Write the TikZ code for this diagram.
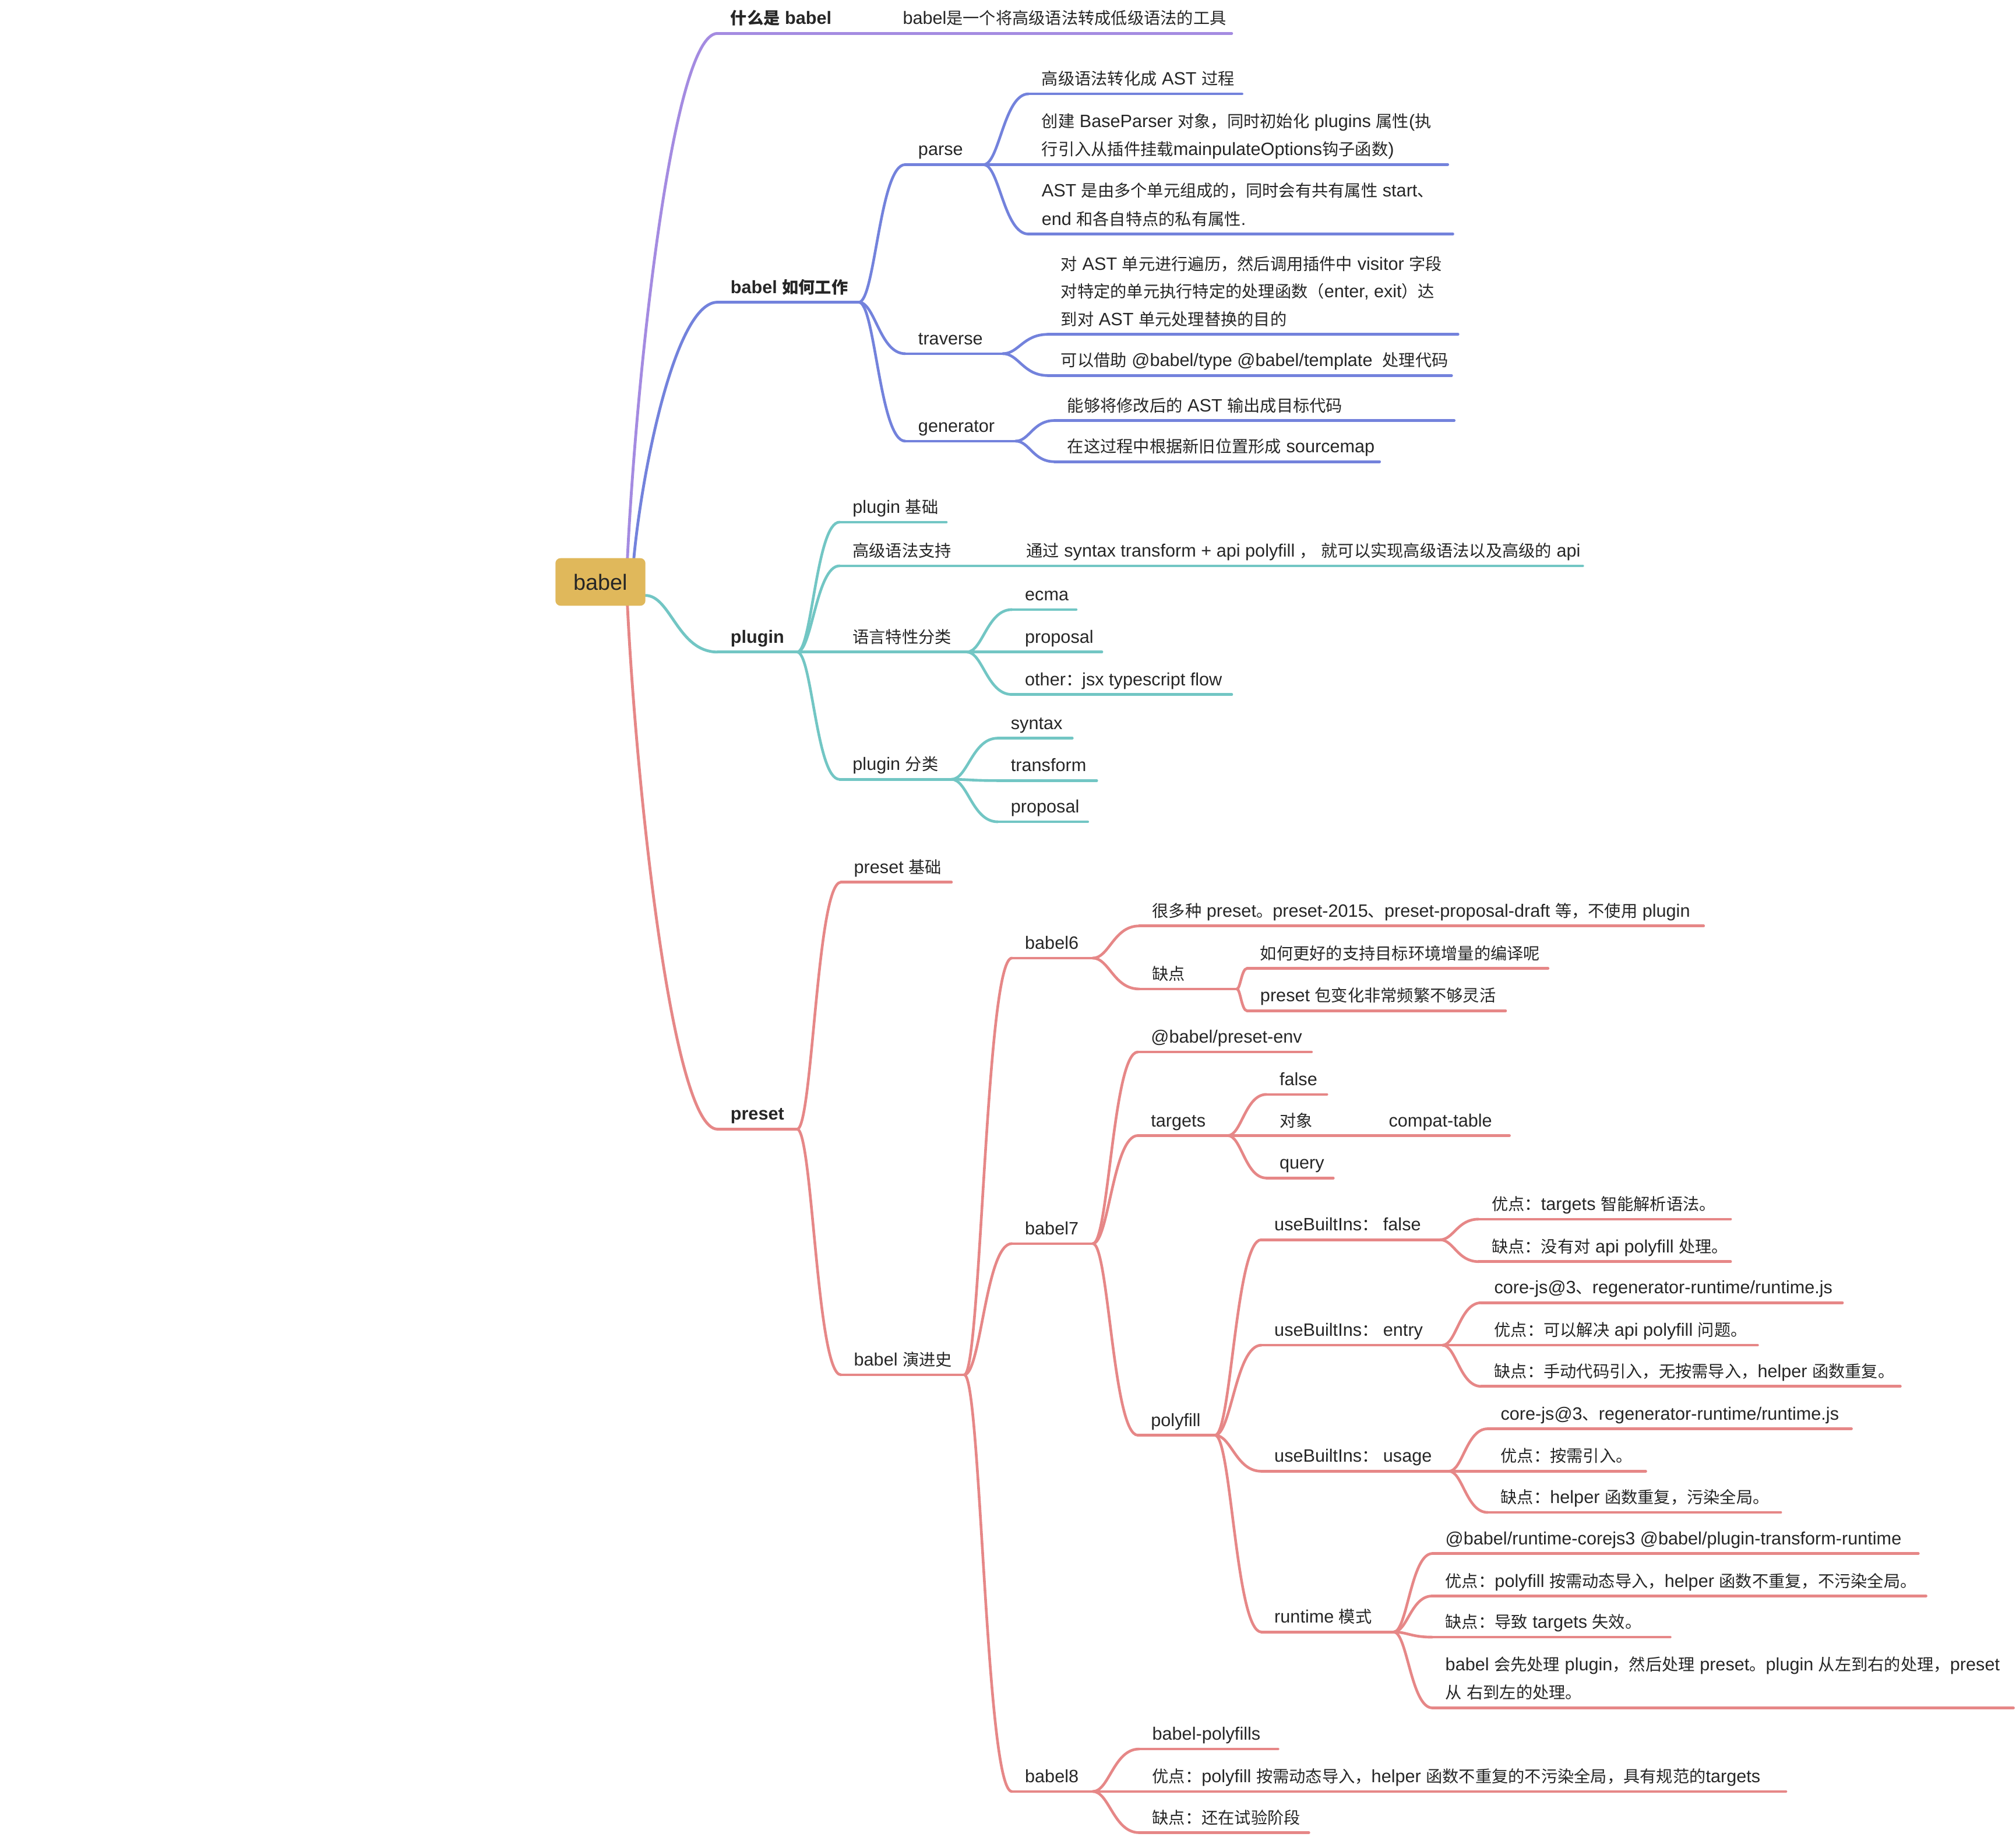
\documentclass[tikz,border=0pt]{standalone}
\usepackage{fontspec}
\setmainfont{Liberation Sans}[Scale=1.085]
\newfontfamily\latfam{Liberation Sans}[Scale=1.085]
\newfontfamily\cjkfam{Noto Sans CJK SC}
\usetikzlibrary{calc}
\XeTeXinterchartokenstate=1
\newXeTeXintercharclass\cjkcls
\newcount\cjkn
\cjkn="2E80
\loop\XeTeXcharclass\cjkn=\cjkcls\relax\ifnum\cjkn<"9FFF \advance\cjkn by 1 \repeat
\cjkn="FF00
\loop\XeTeXcharclass\cjkn=\cjkcls\relax\ifnum\cjkn<"FFEF \advance\cjkn by 1 \repeat
\XeTeXinterchartoks 0 \cjkcls={\cjkfam}
\XeTeXinterchartoks 4095 \cjkcls={\cjkfam}
\XeTeXinterchartoks \cjkcls 0={\latfam}
\XeTeXinterchartoks \cjkcls 4095={\latfam}
\definecolor{cpur}{HTML}{A48BE1}
\definecolor{cblu}{HTML}{7382DC}
\definecolor{ctea}{HTML}{72C6C4}
\definecolor{cred}{HTML}{E68787}
\definecolor{cgold}{HTML}{E0B85B}
\definecolor{ctxt}{HTML}{262626}
% node with underline: name, line style, xS, xE, yU, text
\newcommand\mnode[6]{%
  \coordinate (#1-s) at (#3,#5);
  \coordinate (#1-e) at (#4,#5);
  \draw[#2] (#1-s) -- (#1-e);
  \node[txt] (#1) at (#3+10,#5-7) {#6};}
\newcommand\mnodeii[7]{%
  \coordinate (#1-s) at (#3,#5);
  \coordinate (#1-e) at (#4,#5);
  \draw[#2] (#1-s) -- (#1-e);
  \node[txt] (#1) at (#3+10,#5-29) {#6};
  \node[txt] (#1-2) at (#3+10,#5-7) {#7};}
\newcommand\mnodeiii[8]{%
  \coordinate (#1-s) at (#3,#5);
  \coordinate (#1-e) at (#4,#5);
  \draw[#2] (#1-s) -- (#1-e);
  \node[txt] (#1) at (#3+10,#5-50) {#6};
  \node[txt] (#1-2) at (#3+10,#5-28.5) {#7};
  \node[txt] (#1-3) at (#3+10,#5-7) {#8};}
\newcommand\lnk[3]{\draw[#1] let \p1=(#2),\p2=(#3) in (#2) .. controls ({\x1+0.35*(\x2-\x1)},\y1) and ({\x1+0.45*(\x2-\x1)},\y2) .. (#3);}
\newcommand\rlnk[3]{\draw[#1] let \p1=(#2),\p2=(#3) in (#2) .. controls ({\x1+0.1*(\x2-\x1)},{\y1+0.35*(\y2-\y1)}) and ({\x1+0.5*(\x2-\x1)},\y2) .. (#3);}
\begin{document}
\begin{tikzpicture}[x=1pt,y=-1pt,
  txt/.style={anchor=base west, inner sep=0pt, text=ctxt, font=\fontsize{12.8}{15}\selectfont},
  lbase/.style={line width=2.1pt, line cap=round},
  lpur/.style={lbase, draw=cpur},
  lblu/.style={lbase, draw=cblu},
  ltea/.style={lbase, draw=ctea},
  lred/.style={lbase, draw=cred},
  rootbox/.style={fill=cgold, rounded corners=4pt, minimum width=70pt, minimum height=37pt, inner sep=0pt, text=ctxt, font=\fontsize{15.8}{18}\selectfont}]
\useasboundingbox (0,0) rectangle (1568,1428.4);

% ---------- root ----------
\coordinate (r-pu) at (488,434);
\coordinate (r-bl) at (493,434);
\coordinate (r-te) at (502,463);
\coordinate (r-re) at (488,471);

% ---------- level 1 ----------
\mnode{A}{lpur}{558}{692}{26}{{\bfseries 什么是 babel}}
\mnode{A1}{lpur}{692}{958}{26}{babel是一个将高级语法转成低级语法的工具}

\mnode{B}{lblu}{558}{668}{235}{{\bfseries babel 如何工作}}
\mnode{C}{ltea}{558}{620}{507}{{\bfseries plugin}}
\mnode{D}{lred}{558}{620}{878}{{\bfseries preset}}

\rlnk{lpur,line width=2.2pt}{r-pu}{A-s}
\rlnk{lblu,line width=2.2pt}{r-bl}{B-s}
\lnk{ltea,line width=2.2pt}{r-te}{C-s}
\rlnk{lred,line width=2.2pt}{r-re}{D-s}

\node[rootbox] (root) at (467,452.5) {babel};

% ---------- babel 如何工作 ----------
\mnode{B1}{lblu}{704}{765}{128}{parse}
\mnode{B2}{lblu}{704}{780}{275}{traverse}
\mnode{B3}{lblu}{704}{790}{343}{generator}
\lnk{lblu}{B-e}{B1-s}
\lnk{lblu}{B-e}{B2-s}
\lnk{lblu}{B-e}{B3-s}

\mnode{B11}{lblu}{800}{966}{73}{高级语法转化成 AST 过程}
\mnodeii{B12}{lblu}{800}{1126}{128}{创建 BaseParser 对象，同时初始化 plugins 属性(执}{行引入从插件挂载mainpulateOptions钩子函数)}
\mnodeii{B13}{lblu}{800}{1130}{182}{AST 是由多个单元组成的，同时会有共有属性 start、}{end 和各自特点的私有属性.}
\lnk{lblu}{B1-e}{B11-s}
\lnk{lblu}{B1-e}{B12-s}
\lnk{lblu}{B1-e}{B13-s}

\mnodeiii{B21}{lblu}{815}{1134}{260}{对 AST 单元进行遍历，然后调用插件中 visitor 字段}{对特定的单元执行特定的处理函数（enter, exit）达}{到对 AST 单元处理替换的目的}
\mnode{B22}{lblu}{815}{1129}{292}{可以借助 @babel/type @babel/template\ \ 处理代码}
\lnk{lblu}{B2-e}{B21-s}
\lnk{lblu}{B2-e}{B22-s}

\mnode{B31}{lblu}{820}{1131}{327}{能够将修改后的 AST 输出成目标代码}
\mnode{B32}{lblu}{820}{1073}{359}{在这过程中根据新旧位置形成 sourcemap}
\lnk{lblu}{B3-e}{B31-s}
\lnk{lblu}{B3-e}{B32-s}

% ---------- plugin ----------
\mnode{C1}{ltea}{653}{736}{406}{plugin 基础}
\mnode{C2}{ltea}{653}{788}{440}{高级语法支持}
\mnode{C21}{ltea}{788}{1231}{440}{通过 syntax transform + api polyfill ， 就可以实现高级语法以及高级的 api}
\mnode{C3}{ltea}{653}{752}{507}{语言特性分类}
\mnode{C4}{ltea}{653}{740}{606}{plugin 分类}
\lnk{ltea}{C-e}{C1-s}
\lnk{ltea}{C-e}{C2-s}
\lnk{ltea}{C-e}{C3-s}
\lnk{ltea}{C-e}{C4-s}

\mnode{C31}{ltea}{787}{837}{474}{ecma}
\mnode{C32}{ltea}{787}{857}{507}{proposal}
\mnode{C33}{ltea}{787}{958}{540}{other：jsx typescript flow}
\lnk{ltea}{C3-e}{C31-s}
\lnk{ltea}{C3-e}{C32-s}
\lnk{ltea}{C3-e}{C33-s}

\mnode{C41}{ltea}{776}{834}{574}{syntax}
\mnode{C42}{ltea}{776}{853}{607}{transform}
\mnode{C43}{ltea}{776}{846}{639}{proposal}
\lnk{ltea}{C4-e}{C41-s}
\lnk{ltea}{C4-e}{C42-s}
\lnk{ltea}{C4-e}{C43-s}

% ---------- preset ----------
\mnode{D1}{lred}{654}{740}{686}{preset 基础}
\mnode{D2}{lred}{654}{750}{1069}{babel 演进史}
\lnk{lred}{D-e}{D1-s}
\lnk{lred}{D-e}{D2-s}

\mnode{D21}{lred}{787}{850}{745}{babel6}
\mnode{D22}{lred}{787}{850}{967}{babel7}
\mnode{D23}{lred}{787}{850}{1393}{babel8}
\lnk{lred}{D2-e}{D21-s}
\lnk{lred}{D2-e}{D22-s}
\lnk{lred}{D2-e}{D23-s}

% babel6
\mnode{D211}{lred}{886}{1325}{720}{很多种 preset。preset-2015、preset-proposal-draft 等，不使用 plugin}
\mnode{D212}{lred}{886}{962}{769}{缺点}
\lnk{lred}{D21-e}{D211-s}
\lnk{lred}{D21-e}{D212-s}
\mnode{D2121}{lred}{970}{1204}{753}{如何更好的支持目标环境增量的编译呢}
\mnode{D2122}{lred}{970}{1171}{786}{preset 包变化非常频繁不够灵活}
\lnk{lred}{D212-e}{D2121-s}
\lnk{lred}{D212-e}{D2122-s}

% babel7
\mnode{D221}{lred}{885}{1020}{818}{@babel/preset-env}
\mnode{D222}{lred}{885}{955}{883}{targets}
\mnode{D223}{lred}{885}{945}{1116}{polyfill}
\lnk{lred}{D22-e}{D221-s}
\lnk{lred}{D22-e}{D222-s}
\lnk{lred}{D22-e}{D223-s}

\mnode{D2221}{lred}{985}{1032}{851}{false}
\mnode{D2222}{lred}{985}{1070}{883}{对象}
\mnode{D2224}{lred}{1070}{1174}{883}{compat-table}
\mnode{D2223}{lred}{985}{1037}{916}{query}
\lnk{lred}{D222-e}{D2221-s}
\lnk{lred}{D222-e}{D2222-s}
\lnk{lred}{D222-e}{D2223-s}

\mnode{E1}{lred}{981}{1120}{964}{useBuiltIns：\ false}
\mnode{E2}{lred}{981}{1122}{1046}{useBuiltIns：\ entry}
\mnode{E3}{lred}{981}{1127}{1144}{useBuiltIns：\ usage}
\mnode{E4}{lred}{981}{1084}{1269}{runtime 模式}
\lnk{lred}{D223-e}{E1-s}
\lnk{lred}{D223-e}{E2-s}
\lnk{lred}{D223-e}{E3-s}
\lnk{lred}{D223-e}{E4-s}

\mnode{E11}{lred}{1150}{1346}{948}{优点：targets 智能解析语法。}
\mnode{E12}{lred}{1150}{1346}{981}{缺点：没有对 api polyfill 处理。}
\lnk{lred}{E1-e}{E11-s}
\lnk{lred}{E1-e}{E12-s}

\mnode{E21}{lred}{1152}{1433}{1013}{core-js@3、regenerator-runtime/runtime.js}
\mnode{E22}{lred}{1152}{1367}{1046}{优点：可以解决 api polyfill 问题。}
\mnode{E23}{lred}{1152}{1478}{1078}{缺点：手动代码引入，无按需导入，helper 函数重复。}
\lnk{lred}{E2-e}{E21-s}
\lnk{lred}{E2-e}{E22-s}
\lnk{lred}{E2-e}{E23-s}

\mnode{E31}{lred}{1157}{1440}{1111}{core-js@3、regenerator-runtime/runtime.js}
\mnode{E32}{lred}{1157}{1280}{1144}{优点：按需引入。}
\mnode{E33}{lred}{1157}{1385}{1176}{缺点：helper 函数重复，污染全局。}
\lnk{lred}{E3-e}{E31-s}
\lnk{lred}{E3-e}{E32-s}
\lnk{lred}{E3-e}{E33-s}

\mnode{E41}{lred}{1114}{1492}{1208}{@babel/runtime-corejs3 @babel/plugin-transform-runtime}
\mnode{E42}{lred}{1114}{1498}{1241}{优点：polyfill 按需动态导入，helper 函数不重复，不污染全局。}
\mnode{E43}{lred}{1114}{1299}{1273}{缺点：导致 targets 失效。}
\mnodeii{E44}{lred}{1114}{1566}{1328}{babel 会先处理 plugin，然后处理 preset。plugin 从左到右的处理，preset}{从 右到左的处理。}
\lnk{lred}{E4-e}{E41-s}
\lnk{lred}{E4-e}{E42-s}
\lnk{lred}{E4-e}{E43-s}
\lnk{lred}{E4-e}{E44-s}

% babel8
\mnode{D231}{lred}{886}{994}{1360}{babel-polyfills}
\mnode{D232}{lred}{886}{1389}{1393}{优点：polyfill 按需动态导入，helper 函数不重复的不污染全局，具有规范的targets}
\mnode{D233}{lred}{886}{1018}{1425}{缺点：还在试验阶段}
\lnk{lred}{D23-e}{D231-s}
\lnk{lred}{D23-e}{D232-s}
\lnk{lred}{D23-e}{D233-s}
\end{tikzpicture}
\end{document}
